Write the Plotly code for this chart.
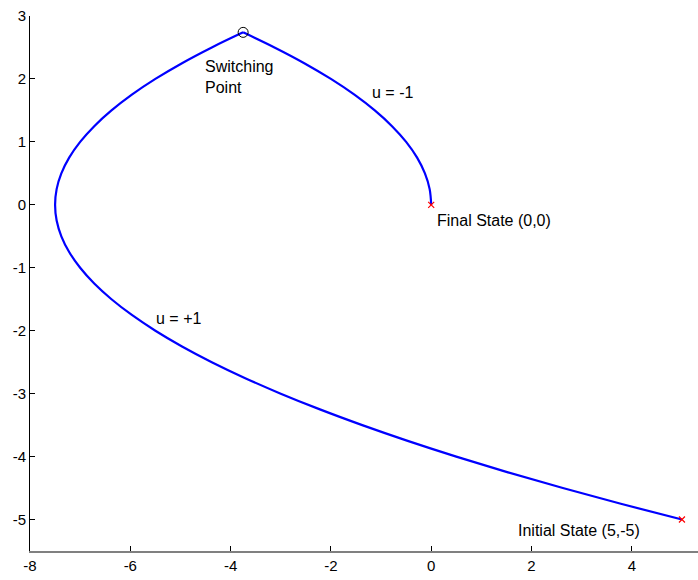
import plotly.graph_objects as go

# Trajectory under u = +1, from the initial state up to the switching point
pos_x = [5.0, 3.781, 2.625, 1.531, 0.5, -0.469, -1.375, -2.219, -3.0, -3.719,
         -4.375, -4.969, -5.5, -5.969, -6.375, -6.719, -7.0, -7.219, -7.375,
         -7.469, -7.5, -7.469, -7.375, -7.219, -7.0, -6.719, -6.375, -5.969,
         -5.5, -4.969, -4.375, -3.75]
pos_y = [-5.0, -4.75, -4.5, -4.25, -4.0, -3.75, -3.5, -3.25, -3.0, -2.75,
         -2.5, -2.25, -2.0, -1.75, -1.5, -1.25, -1.0, -0.75, -0.5,
         -0.25, 0.0, 0.25, 0.5, 0.75, 1.0, 1.25, 1.5, 1.75,
         2.0, 2.25, 2.5, 2.74]

# Trajectory under u = -1, from the switching point to the origin
neg_x = [-3.75, -3.125, -2.531, -2.0, -1.531, -1.125, -0.781, -0.5, -0.281,
         -0.125, -0.031, 0.0]
neg_y = [2.74, 2.5, 2.25, 2.0, 1.75, 1.5, 1.25, 1.0, 0.75, 0.5, 0.25, 0.0]

switch_pt = (-3.75, 2.74)
states_x = [5.0, 0.0]
states_y = [-5.0, 0.0]

x_ticks = [-8, -6, -4, -2, 0, 2, 4]
y_ticks = [-5, -4, -3, -2, -1, 0, 1, 2, 3]

labels = [
    ("Switching<br>Point", -4.55, 2.03),
    ("u = -1", -1.22, 1.78),
    ("Final State (0,0)", 0.07, -0.25),
    ("u = +1", -5.53, -1.81),
    ("Initial State (5,-5)", 1.69, -5.17),
]

fig = go.Figure()
line_style = dict(color="#0000ff", width=2.2, shape="spline")
fig.add_trace(go.Scatter(x=pos_x, y=pos_y, mode="lines", line=line_style))
fig.add_trace(go.Scatter(x=neg_x, y=neg_y, mode="lines", line=line_style))
fig.add_trace(go.Scatter(x=[switch_pt[0]], y=[switch_pt[1]], mode="markers",
                         marker=dict(symbol="circle-open", size=10, color="black",
                                     line=dict(width=1, color="black"))))
fig.add_trace(go.Scatter(x=states_x, y=states_y, mode="markers",
                         marker=dict(symbol="x-thin-open", size=6, color="red",
                                     line=dict(width=1.2, color="red"))))

for txt, x, y in labels:
    fig.add_annotation(x=x, y=y, text=txt, showarrow=False, xanchor="left",
                       yanchor="middle", align="left",
                       font=dict(size=16, color="black"))

fig.update_layout(
    width=698, height=580,
    margin=dict(l=30, r=0, t=16, b=29),
    paper_bgcolor="white", plot_bgcolor="white",
    showlegend=False,
    font=dict(family="Liberation Sans, Arial, sans-serif", size=15, color="black"),
)
fig.update_xaxes(range=[-8, 5.32], tickvals=x_ticks, ticktext=[str(v) for v in x_ticks],
                 showgrid=False, zeroline=False, showline=True, linecolor="#808080",
                 linewidth=2, ticks="inside", ticklen=5, tickcolor="black",
                 tickfont=dict(size=15))
fig.update_yaxes(range=[-5.5, 3], tickvals=y_ticks, ticktext=[str(v) for v in y_ticks],
                 showgrid=False, zeroline=False, showline=True, linecolor="black",
                 linewidth=1, ticks="inside", ticklen=5, tickcolor="black",
                 tickfont=dict(size=15))

fig.write_html("out.html")
